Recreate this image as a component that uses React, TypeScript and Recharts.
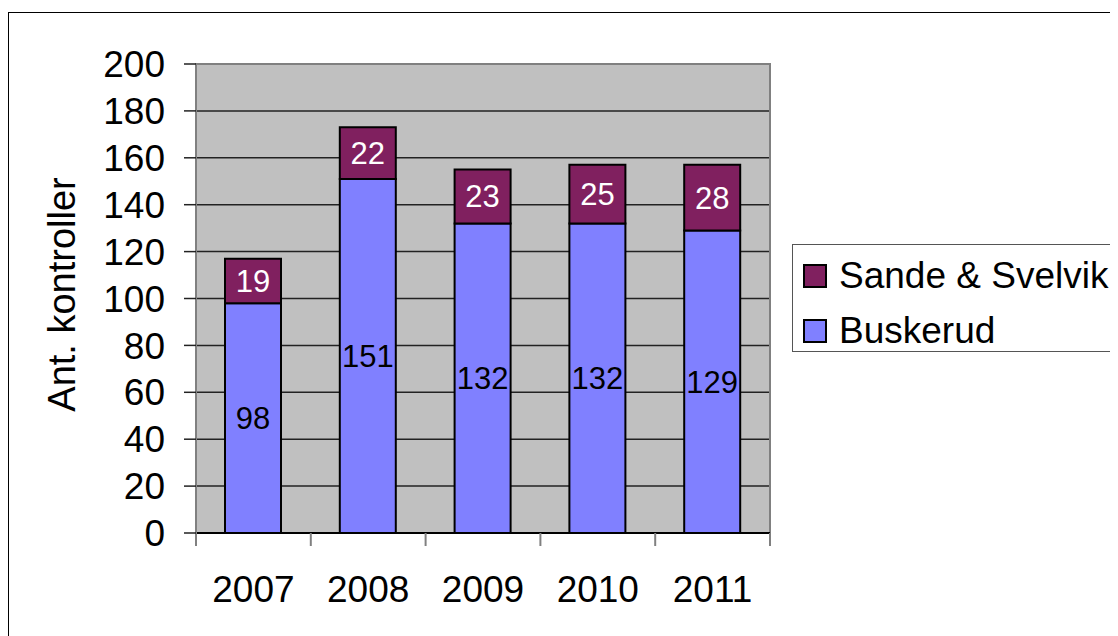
import {
  Bar,
  BarChart,
  CartesianGrid,
  LabelList,
  Legend,
  ReferenceArea,
  XAxis,
  YAxis
} from 'recharts';

const years = ['2007', '2008', '2009', '2010', '2011'];
const buskerud = [98, 151, 132, 132, 129];
const sandeSvelvik = [19, 22, 23, 25, 28];
const yTicks = [0, 20, 40, 60, 80, 100, 120, 140, 160, 180, 200];
const boundaryTicks = [0, 1, 2, 3, 4, 5];

const FONT = 'Arial, "Liberation Sans", sans-serif';
const PURPLE = '#80205F';
const BLUE = '#8080FF';

const data = years.map((year, i) => ({
  year,
  idx: i + 0.5,
  buskerud: buskerud[i],
  sande: sandeSvelvik[i]
}));

const legendItems = [
  { label: 'Sande & Svelvik', color: PURPLE },
  { label: 'Buskerud', color: BLUE }
];

// legend box as drawn by the old spreadsheet chart
const LegendBox = () => (
  <div
    style={{
      width: 400,
      height: 108,
      border: '1px solid #555',
      background: '#fff',
      boxSizing: 'border-box',
      paddingTop: 9,
      fontFamily: FONT
    }}
  >
    {legendItems.map((item) => (
      <div key={item.label} style={{ display: 'flex', alignItems: 'center', height: 44, marginBottom: 11 }}>
        <span
          style={{
            display: 'inline-block',
            width: 20,
            height: 20,
            marginLeft: 10,
            marginRight: 12,
            background: item.color,
            border: '2px solid #000'
          }}
        />
        <span style={{ fontSize: 37, color: '#000', whiteSpace: 'nowrap' }}>{item.label}</span>
      </div>
    ))}
  </div>
);

const YLabel = (props: any) => {
  const vb = props.viewBox || {};
  const cx = 54;
  const cy = vb.y + vb.height / 2 - 4;
  return (
    <text
      x={cx}
      y={cy}
      transform={`rotate(-90, ${cx}, ${cy})`}
      textAnchor="middle"
      dominantBaseline="central"
      fontSize={38}
      fontFamily={FONT}
      fill="#000"
    >
      Ant. kontroller
    </text>
  );
};

const emptyTick = () => <g />;

export default function App() {
  return (
    <div style={{ position: 'relative', width: 1110, height: 628, overflow: 'hidden' }}>
      <div
        style={{
          position: 'absolute',
          left: 0,
          top: 4,
          width: 1300,
          height: 800,
          border: '1px solid #000'
        }}
      />
      <div style={{ position: 'absolute', left: 0, top: 0 }}>
        <BarChart
          width={1110}
          height={628}
          data={data}
          margin={{ top: 56, right: 348, bottom: 20, left: 0 }}
        >
          <CartesianGrid
            xAxisId="years"
            vertical={false}
            horizontalValues={[20, 40, 60, 80, 100, 120, 140, 160, 180]}
            stroke="#222"
            strokeWidth={1.5}
            fill="#C0C0C0"
            fillOpacity={1}
          />
          <XAxis
            xAxisId="base"
            type="number"
            dataKey="idx"
            domain={[0, 5]}
            ticks={boundaryTicks}
            height={13}
            tickSize={13}
            tick={emptyTick}
            tickLine={{ stroke: '#808080', strokeWidth: 2 }}
            axisLine={{ stroke: '#000', strokeWidth: 2 }}
          />
          <XAxis
            xAxisId="years"
            dataKey="year"
            height={70}
            tickLine={false}
            axisLine={false}
            tickSize={0}
            tickMargin={30}
            tick={{ fontSize: 37, fill: '#000', fontFamily: FONT }}
          />
          <YAxis
            width={188}
            domain={[0, 200]}
            ticks={yTicks}
            interval={0}
            tickSize={12}
            tickMargin={19}
            axisLine={{ stroke: '#808080', strokeWidth: 2 }}
            tickLine={{ stroke: '#222', strokeWidth: 1.5 }}
            tick={{ fontSize: 37, fill: '#000', fontFamily: FONT }}
            label={<YLabel />}
          />
          <ReferenceArea
            xAxisId="base"
            x1={0}
            x2={5}
            y1={0}
            y2={200}
            fill="none"
            stroke="#808080"
            strokeWidth={2}
            ifOverflow="visible"
          />
          <Legend
            layout="vertical"
            verticalAlign="middle"
            align="center"
            wrapperStyle={{ left: 784, top: 236, width: 400 }}
            content={<LegendBox />}
          />
          <Bar
            xAxisId="years"
            dataKey="buskerud"
            name="Buskerud"
            stackId="a"
            fill={BLUE}
            stroke="#000"
            strokeWidth={2}
            barSize={56}
            isAnimationActive={false}
          >
            <LabelList dataKey="buskerud" position="center" fill="#000" fontSize={31} fontFamily={FONT} />
          </Bar>
          <Bar
            xAxisId="years"
            dataKey="sande"
            name="Sande & Svelvik"
            stackId="a"
            fill={PURPLE}
            stroke="#000"
            strokeWidth={2}
            barSize={56}
            isAnimationActive={false}
          >
            <LabelList dataKey="sande" position="center" fill="#fff" fontSize={31} fontFamily={FONT} />
          </Bar>
        </BarChart>
      </div>
    </div>
  );
}
